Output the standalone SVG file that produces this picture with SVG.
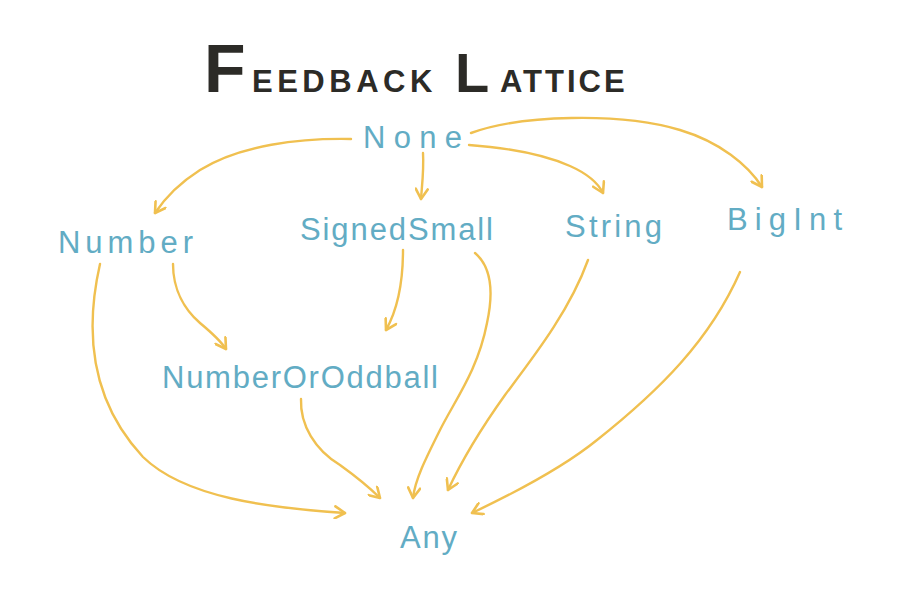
<svg xmlns="http://www.w3.org/2000/svg" width="908" height="607" viewBox="0 0 908 607">
<style>
.lbl{font-family:"Liberation Sans","DejaVu Sans",sans-serif;font-size:31px;fill:#62acc4;}
.title{font-family:"Liberation Sans","DejaVu Sans",sans-serif;font-weight:bold;fill:#2c2b27;}
.edge{fill:none;stroke:#f0c050;stroke-width:2.4;stroke-linecap:round;stroke-linejoin:round;marker-end:url(#ah);}
</style>
<defs>
<marker id="ah" viewBox="0 0 14 14" refX="12" refY="7" markerWidth="14" markerHeight="14" markerUnits="userSpaceOnUse" orient="auto">
<path d="M2,1 L12,7 L2,13" fill="none" stroke="#f0c050" stroke-width="2.6" stroke-linecap="round" stroke-linejoin="round"/>
</marker>
</defs>
<rect width="908" height="607" fill="#ffffff"/>
<g id="title">
<text class="title" y="92"><tspan x="204" font-size="68">F</tspan><tspan x="252" font-size="31" letter-spacing="4.5">EEDBACK </tspan><tspan x="455" font-size="56">L</tspan><tspan x="500" font-size="31" letter-spacing="3">ATTICE</tspan></text>
</g>
<g id="edges">
<path class="edge" d="M351,139 C300,138 240,145 200,170 C178,184 165,198 155,213"/>
<path class="edge" d="M423,153 C424,170 422,185 421,199"/>
<path class="edge" d="M469,145 C510,148 545,155 570,166 C588,174 598,183 603,193"/>
<path class="edge" d="M471,133 C520,115 620,112 680,130 C720,142 748,165 762,187"/>
<path class="edge" d="M173,264 C173,290 185,310 200,323 C212,333 220,340 226,349"/>
<path class="edge" d="M403,250 C403,275 400,305 386,330"/>
<path class="edge" d="M100,264 C85,330 90,400 143,457 C185,498 270,508 345,513"/>
<path class="edge" d="M475,253 C495,270 492,300 487,323 C478,370 455,400 440,430 C425,460 415,480 413,498"/>
<path class="edge" d="M301,399 C300,425 315,450 340,465 C358,478 372,490 380,498"/>
<path class="edge" d="M588,260 C570,310 535,355 505,395 C480,430 462,460 448,490"/>
<path class="edge" d="M740,272 C710,340 660,390 597,440 C560,470 510,495 472,513"/>
</g>
<g id="node-none"><text class="lbl" x="363" y="148" font-size="32" textLength="99" lengthAdjust="spacing">None</text></g>
<g id="node-number"><text class="lbl" x="58" y="253" textLength="135" lengthAdjust="spacing">Number</text></g>
<g id="node-signedsmall"><text class="lbl" x="300" y="240" textLength="193" lengthAdjust="spacing">SignedSmall</text></g>
<g id="node-string"><text class="lbl" x="565" y="237" textLength="97" lengthAdjust="spacing">String</text></g>
<g id="node-bigint"><text class="lbl" x="727" y="230" textLength="115" lengthAdjust="spacing">BigInt</text></g>
<g id="node-numberoroddball"><text class="lbl" x="162" y="388" textLength="276" lengthAdjust="spacing">NumberOrOddball</text></g>
<g id="node-any"><text class="lbl" x="400" y="548" textLength="57" lengthAdjust="spacing">Any</text></g>
</svg>
